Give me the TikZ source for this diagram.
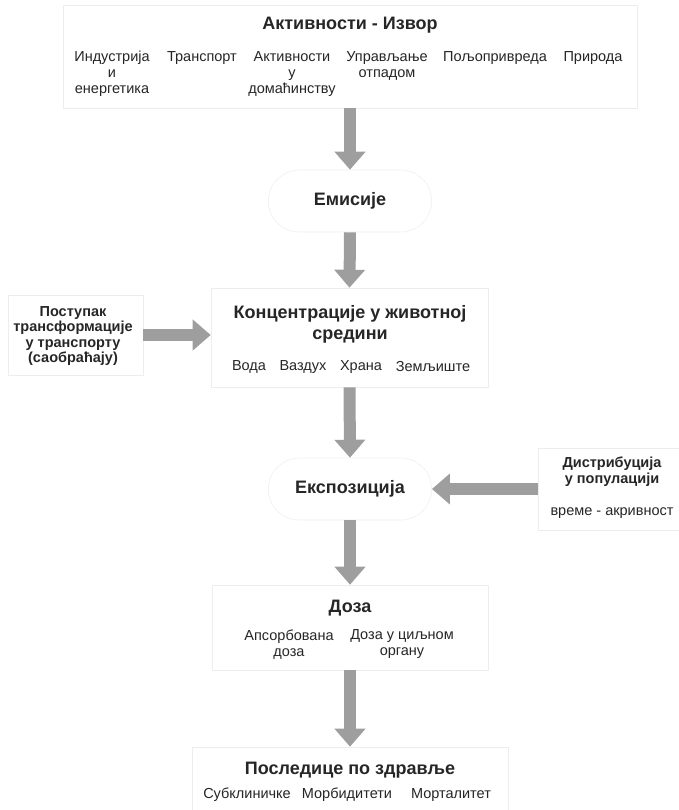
\documentclass[tikz,border=0pt]{standalone}
\usepackage{fontspec}
\setmainfont{Liberation Sans}
\usetikzlibrary{shapes.misc,arrows.meta}

\tikzset{
  box/.style={draw=black!7, line width=0.6pt, fill=white, rectangle},
  pill/.style={draw=black!6, line width=0.6pt, fill=white, rounded rectangle},
  ttl/.style={font=\bfseries\fontsize{18}{21}\selectfont, text=black!85, inner sep=0pt, align=center},
  itm/.style={font=\fontsize{14.5}{16}\selectfont, text=black!85, inner sep=0pt, align=center},
  side/.style={font=\bfseries\fontsize{14.5}{15.5}\selectfont, text=black!85, inner sep=0pt, align=center},
  bigarrow/.style={line width=12pt, draw=black!38, -{Triangle[width=30pt,length=18pt]}},
}

\begin{document}
\begin{tikzpicture}[x=1pt,y=-1pt]
    \useasboundingbox (0,0) rectangle (678,810);
    % boxes
    \node[box, minimum width=574pt, minimum height=103pt] (izvor) at (350,56.5) {};
    \node[pill, minimum width=170pt, minimum height=62pt] (emisije) at (350,201) {};
    \node[box, minimum width=277pt, minimum height=99pt] (konc) at (349.5,337.5) {};
    \node[box, minimum width=135pt, minimum height=80pt] (postupak) at (75.5,335) {};
    \node[pill, minimum width=170pt, minimum height=62pt] (ekspoz) at (350,489) {};
    \node[box, minimum width=150pt, minimum height=82pt] (distrib) at (613,489) {};
    \node[box, minimum width=276pt, minimum height=85pt] (doza) at (350,627.5) {};
    \node[box, minimum width=316pt, minimum height=74pt] (posl) at (350,784) {};
    % arrows
    \draw[bigarrow] (izvor.south) -- (emisije.north);
    \draw[bigarrow] (emisije.south) -- (konc.north);
    \draw[bigarrow] (konc.south) -- (ekspoz.north);
    \draw[bigarrow] (ekspoz.south) -- (doza.north);
    \draw[bigarrow] (doza.south) -- (posl.north);
    \draw[bigarrow] (postupak.east) -- (postupak.east -| konc.west);
    \draw[bigarrow] (distrib.west) -- (ekspoz.east);
    % texts
    \node[ttl] (tizvor) at (350,25) {Активности - Извор};
    \node[itm, anchor=north] (i1) at (112,51) {Индустрија\\и\\енергетика};
    \node[itm, anchor=north] (i2) at (202,51) {Транспорт};
    \node[itm, anchor=north] (i3) at (292,51) {Активности\\у\\домаћинству};
    \node[itm, anchor=north] (i4) at (387,51) {Управљање\\отпадом};
    \node[itm, anchor=north] (i5) at (495,51) {Пољопривреда};
    \node[itm, anchor=north] (i6) at (593,51) {Природа};
    \node[ttl] (temis) at (350,201) {Емисије};
    \node[ttl, anchor=north] (tkonc) at (350,305) {Концентрације у животној\\средини};
    \node[itm] (k1) at (249,367) {Вода};
    \node[itm] (k2) at (303,367) {Ваздух};
    \node[itm] (k3) at (361,367) {Храна};
    \node[itm] (k4) at (433,367) {Земљиште};
    \node[side, anchor=north] (tpost) at (73,306) {Поступак\\трансформације\\у транспорту\\(саобраћају)};
    \node[ttl] (teksp) at (350,489) {Експозиција};
    \node[side, anchor=north] (tdist) at (612,457) {Дистрибуција\\у популацији};
    \node[itm] (tvreme) at (612,513) {време - акривност};
    \node[ttl] (tdoza) at (350,608) {Доза};
    \node[itm, anchor=north] (d1) at (289,629.5) {Апсорбована\\доза};
    \node[itm, anchor=north] (d2) at (402,629.5) {Доза у циљном\\органу};
    \node[ttl] (tposl) at (350,770) {Последице по здравље};
    \node[itm] (p1) at (247,795) {Субклиничке};
    \node[itm] (p2) at (347,795) {Морбидитети};
    \node[itm] (p3) at (451,795) {Морталитет};
\end{tikzpicture}
\end{document}
